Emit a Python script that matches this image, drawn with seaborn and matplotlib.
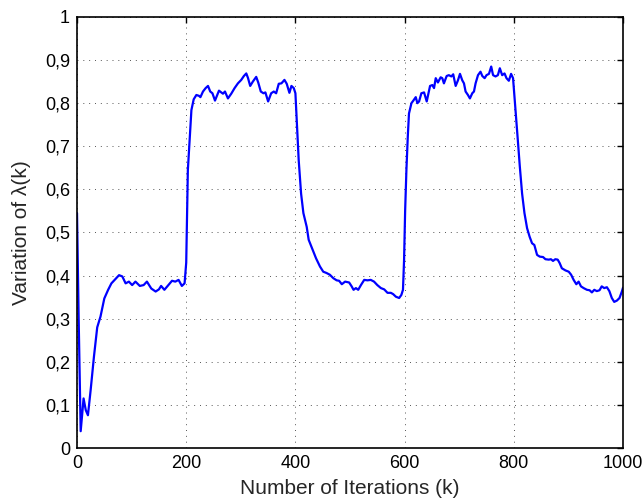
import matplotlib
matplotlib.use("Agg")
import matplotlib.pyplot as plt
import seaborn as sns
import pandas as pd
from matplotlib.ticker import FuncFormatter

iterations = [0, 3, 6.7, 12, 16, 20, 25, 31, 37, 43, 50, 57, 63, 69, 77, 83, 89, 95, 101, 107,
              115, 122, 128, 136, 144, 150, 154, 160, 166, 174, 180, 186, 192, 197, 200,
              203, 209.5, 213.7, 218.6, 223.4, 226, 230.7, 235.6, 239.9, 244, 248, 252.7, 260,
              264, 267.3, 271, 276.4, 282.5, 288.6, 294.7, 300.8, 305.6, 310, 313, 317.2, 322,
              328.2, 331.9, 336.6, 341.5, 345, 350, 355.6, 360.4, 364.7, 369.5, 374.4, 379.9,
              384.1, 389, 392.7, 397, 400, 402.4, 406, 410.4, 414.6, 420.7, 424.3, 430.5, 437.8,
              445, 451, 457, 463, 469.4, 475.5, 480, 485, 491, 498.4, 503, 506.5, 510.8, 515,
              520, 526, 532, 538, 544, 550, 556.6, 562.6, 568.7, 574.8, 579, 584, 590, 594, 597,
              599, 601, 603.3, 605.8, 608, 612.5, 616, 620.4, 623.4, 626.5, 630.7, 635.6, 640.5,
              646.6, 650.8, 653.9, 657, 661, 666, 669, 672, 677, 681, 685.6, 689, 693.5, 697.7,
              701.4, 705.6, 708.7, 711.7, 716, 719.6, 723.9, 727, 730, 734.4, 739, 742.3, 746.6,
              750, 754.5, 758.6, 762, 766.5, 770.8, 774.4, 778.7, 783, 786.6, 790.9, 795, 798.6,
              803, 807.3, 811, 815.2, 819.5, 824.3, 829, 833.4, 837.6, 842.6, 847.5, 853.6, 857.9,
              864, 868, 871.8, 876, 880.4, 884, 888, 894.6, 900.6, 905, 909.6, 914.5, 918.7, 923,
              927.9, 934, 938.8, 943, 947.4, 952, 957, 961, 965.6, 970.5, 975, 979.5, 983.9,
              988.8, 993.6, 997.9, 1000]
lambda_k = [0.545, 0.30, 0.039, 0.115, 0.088, 0.076, 0.135, 0.212, 0.28, 0.305, 0.347, 0.367,
            0.382, 0.39, 0.401, 0.398, 0.382, 0.386, 0.378, 0.386, 0.376, 0.378, 0.386, 0.37,
            0.363, 0.368, 0.376, 0.367, 0.376, 0.388, 0.386, 0.39, 0.376, 0.382, 0.43,
            0.645, 0.784, 0.809, 0.819, 0.817, 0.814, 0.827, 0.835, 0.84, 0.827, 0.823, 0.806,
            0.829, 0.825, 0.822, 0.827, 0.811, 0.822, 0.835, 0.846, 0.854, 0.863, 0.869, 0.859,
            0.84, 0.85, 0.861, 0.848, 0.827, 0.823, 0.825, 0.804, 0.823, 0.827, 0.823, 0.845,
            0.846, 0.854, 0.845, 0.824, 0.84, 0.835, 0.823, 0.761, 0.668, 0.59, 0.545, 0.513,
            0.483, 0.463, 0.44, 0.421, 0.409, 0.406, 0.402, 0.394, 0.389, 0.388, 0.38, 0.386,
            0.384, 0.375, 0.367, 0.371, 0.367, 0.378, 0.39, 0.389, 0.39, 0.386, 0.378, 0.371,
            0.368, 0.36, 0.36, 0.357, 0.351, 0.348, 0.355, 0.367, 0.436, 0.552, 0.645, 0.722,
            0.776, 0.8, 0.806, 0.814, 0.8, 0.804, 0.823, 0.825, 0.804, 0.84, 0.842, 0.835,
            0.858, 0.848, 0.86, 0.858, 0.846, 0.863, 0.865, 0.862, 0.867, 0.84, 0.853, 0.868,
            0.853, 0.846, 0.827, 0.819, 0.811, 0.823, 0.827, 0.846, 0.865, 0.873, 0.863, 0.858,
            0.865, 0.868, 0.885, 0.865, 0.862, 0.865, 0.881, 0.865, 0.869, 0.858, 0.852, 0.868,
            0.858, 0.784, 0.715, 0.653, 0.59, 0.545, 0.51, 0.49, 0.475, 0.471, 0.448, 0.444,
            0.443, 0.438, 0.437, 0.438, 0.434, 0.438, 0.437, 0.429, 0.417, 0.412, 0.409, 0.402,
            0.39, 0.38, 0.386, 0.375, 0.371, 0.367, 0.366, 0.361, 0.367, 0.364, 0.366, 0.375,
            0.371, 0.373, 0.364, 0.348, 0.339, 0.342, 0.348, 0.363, 0.372]

x_ticks = [0, 200, 400, 600, 800, 1000]
y_ticks = [0, 0.1, 0.2, 0.3, 0.4, 0.5, 0.6, 0.7, 0.8, 0.9, 1.0]

df = pd.DataFrame({"k": iterations, "lam": lambda_k})

sns.set_style("white")
plt.rcParams['font.family'] = ['Liberation Sans', 'DejaVu Sans']

fig = plt.figure(figsize=(6.44, 4.99), dpi=100)
ax = fig.add_axes([0.1196, 0.1022, 0.8478, 0.8638])
sns.lineplot(data=df, x="k", y="lam", ax=ax, color="#0000ff", linewidth=1.6,
             sort=False, estimator=None)

ax.set_xlim(0, 1000)
ax.set_ylim(0, 1)
ax.set_xticks(x_ticks)
ax.set_yticks(y_ticks)
ax.yaxis.set_major_formatter(FuncFormatter(lambda v, p: ("%g" % round(v, 1)).replace(".", ",")))
ax.tick_params(direction="in", length=4, width=1, top=True, right=True,
               labelsize=13, colors="black", pad=5)
ax.grid(True, color="#555555", linestyle=(0, (1, 5)), linewidth=0.7)
for s in ax.spines.values():
    s.set_visible(True)
    s.set_color("black")
    s.set_linewidth(1.2)
ax.set_xlabel("Number of Iterations (k)", fontsize=15, labelpad=5)
ax.set_ylabel("Variation of λ(k)", fontsize=15, labelpad=10)

fig.savefig("out.png", dpi=100)
